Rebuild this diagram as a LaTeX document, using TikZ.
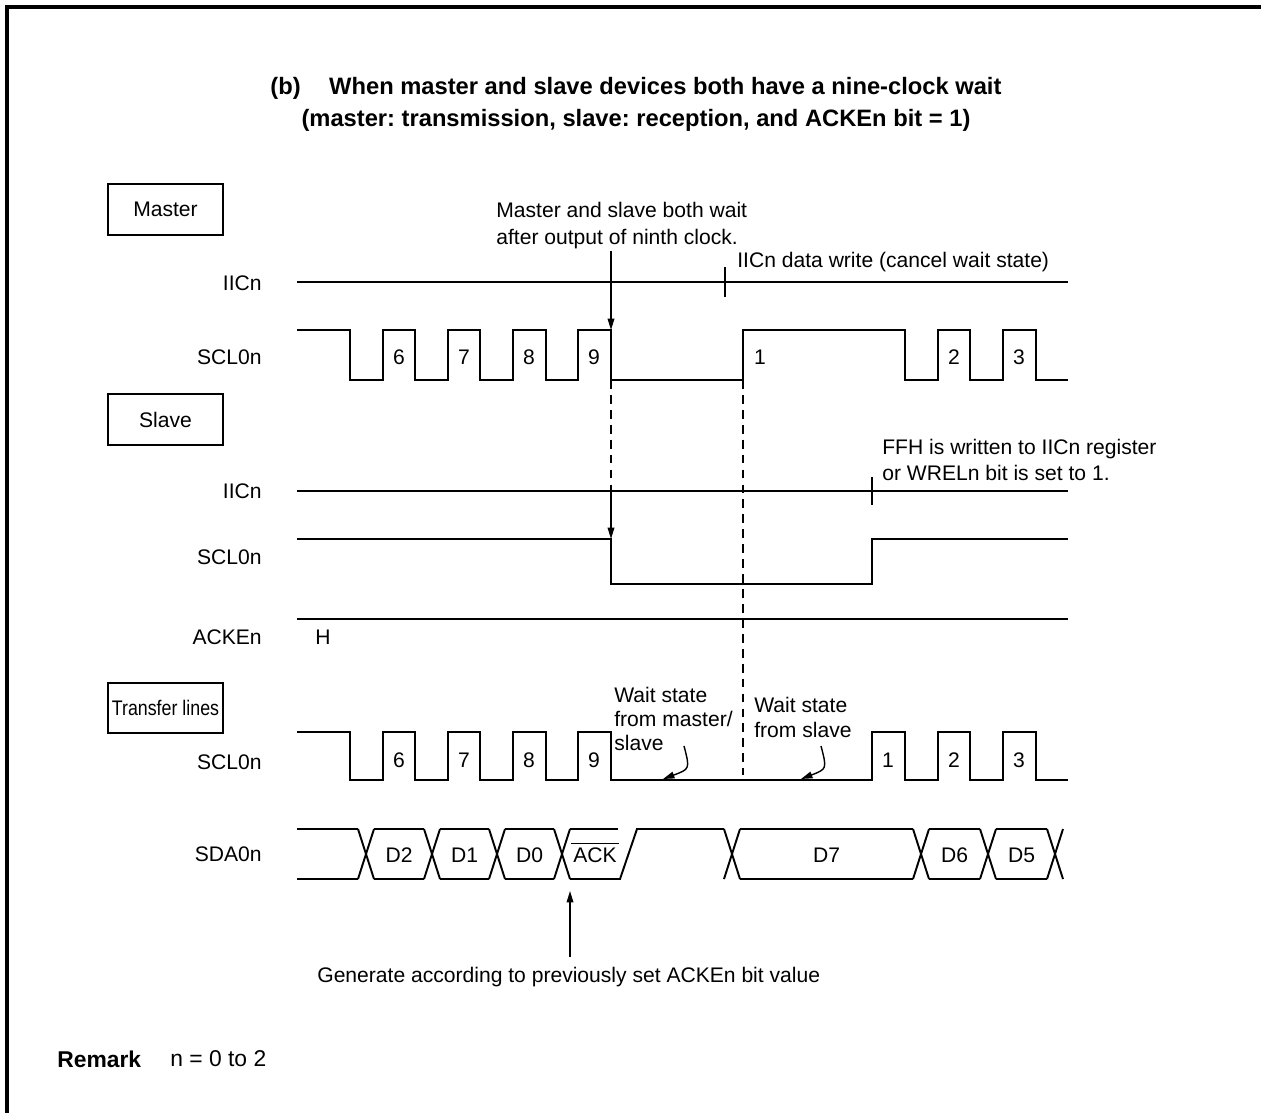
\documentclass[tikz,border=0pt]{standalone}
\usepackage{fontspec}
\setmainfont{Liberation Sans}
\usetikzlibrary{arrows.meta,positioning}
\frenchspacing

\begin{document}
\begin{tikzpicture}[x=0.02cm, y=-0.02cm,
    font=\fontsize{12pt}{14pt}\selectfont,
    sig/.style={line width=1.1pt},
    guide/.style={line width=0.8pt, dash pattern=on 5pt off 3.5pt},
    pointer/.style={line width=0.8pt, -{Triangle[length=6.5pt,width=3.8pt]}},
    rowlabel/.style={anchor=east, inner sep=0pt},
    note/.style={anchor=west, align=left, inner sep=0pt},
    groupbox/.style={draw, line width=0.95pt, minimum width=2.3cm, minimum height=1.02cm, inner sep=0pt}]

  \useasboundingbox (0,0) rectangle (1261,1113);

  % Frame
  \draw[line width=1.9pt] (7,1113) -- (7,7) -- (1261,7);

  % Title
  \node[font=\fontsize{13.5pt}{16pt}\selectfont\bfseries] (title1) at (636,88) {(b)\hspace{1.2em}When master and slave devices both have a nine-clock wait};
  \node[font=\fontsize{13.5pt}{16pt}\selectfont\bfseries] (title2) at (636,120) {(master: transmission, slave: reception, and ACKEn bit = 1)};

  % Group boxes
  \node[groupbox] (master) at (165.5,209.5) {Master};
  \node[groupbox] (slave) at (165.5,419.5) {Slave};
  \node[groupbox, minimum height=1cm] (transfer) at (165.5,708) {\scalebox{0.845}[1]{Transfer lines}};

  % Row labels
  \foreach \y/\nm/\txt in {283/miic/IICn, 357/mscl/SCL0n, 491/siic/IICn, 557/sscl/SCL0n, 637/acken/ACKEn, 762/tscl/SCL0n, 854/tsda/SDA0n}
    \node[rowlabel] (\nm) at (262,\y) {\txt};

  % Master IICn
  \draw[sig] (297,282) -- (1068,282);
  \draw[sig] (725,267) -- (725,297);
  \node[note] (iicw) at (737,262.5) {IICn data write (cancel wait state)};

  % Master SCL0n
  \draw[sig] (297,330) -| (350,380) -| (383,330) -| (415,380) -| (448,330) -| (480,380) -| (513,330) -| (546,380) -| (578,330) -| (611,380) -| (743,330) -| (905,380) -| (938,330) -| (970,380) -| (1003,330) -| (1036,380) -- (1068,380);
  \foreach \x/\t in {399/6, 464/7, 529/8, 594/9, 760/1, 954/2, 1019/3}
    \node (m\t) at (\x,357) {\t};

  % Both wait after ninth clock
  \node[note, font=\fontsize{12pt}{15.8pt}\selectfont] (bothwait) at (496,225.5) {Master and slave both wait\\after output of ninth clock.};
  \coordinate (mtop) at (611,251);
  \coordinate (mfall) at (611,330);
  \coordinate (mlow) at (611,380);
  \draw[pointer] (mtop) -- (mfall);

  % Slave IICn
  \draw[sig] (297,491) -- (1068,491);
  \draw[sig] (872,477) -- (872,505);
  \node[note, font=\fontsize{12pt}{14.7pt}\selectfont] (ffh) at (882,460) {FFH is written to IICn register\\or WRELn bit is set to 1.};

  % Slave SCL0n
  \draw[sig] (297,539) -| (611,584) -| (872,539) -- (1068,539);
  \coordinate (siicx) at (611,491);
  \coordinate (sfall) at (611,539);
  \draw[guide] (mlow) -- (siicx);
  \draw[pointer] (siicx) -- (sfall);

  % ACKEn
  \draw[sig] (297,619) -- (1068,619);
  \node (ackh) at (323,637) {H};

  % Transfer SCL0n
  \draw[sig] (297,732) -| (350,780) -| (383,732) -| (415,780) -| (448,732) -| (480,780) -| (513,732) -| (546,780) -| (578,732) -| (611,780) -| (872,732) -| (905,780) -| (938,732) -| (970,780) -| (1003,732) -| (1036,780) -- (1068,780);
  \foreach \x/\t in {399/6, 464/7, 529/8, 594/9, 888/1, 954/2, 1019/3}
    \node (t\t) at (\x,760) {\t};

  % Master releases wait
  \coordinate (mrise) at (743,380);
  \coordinate (trel) at (743,775);
  \draw[guide] (mrise) -- (trel);

  % Wait state notes
  \node[note, font=\fontsize{12pt}{13.9pt}\selectfont] (waitms) at (614,719) {Wait state\\from master/\\slave};
  \coordinate (waitmstail) at (684,746);
  \coordinate (waitmsend) at (663,779);
  \draw[pointer] (waitmstail) .. controls (690,769) .. (waitmsend);
  \node[note, font=\fontsize{12pt}{14.2pt}\selectfont] (waitsl) at (754,717) {Wait state\\from slave};
  \coordinate (waitsltail) at (821,746);
  \coordinate (waitslend) at (801,779);
  \draw[pointer] (waitsltail) .. controls (827,769) .. (waitslend);

  % SDA0n
  \draw[sig] (297,829) -- (358,829) (297,879) -- (358,879);
  \foreach \l/\r/\t in {374/424/D2, 440/489/D1, 505/554/D0, 740/913/D7, 929/980/D6, 996/1047/D5} {
    \draw[sig] (\l,829) -- (\r,829) (\l,879) -- (\r,879);
    \node (\t) at ({(\l+\r)/2},855) {\t};
  }
  \foreach \x in {358,424,489,554,724,913,980,1047}
    \draw[sig] (\x,829) -- ++(16,50) (\x,879) -- ++(16,-50);
  % ACK bit
  \draw[sig] (570,829) -- (618,829);
  \draw[sig] (570,879) -- (620,879) -- (637,829) -- (724,829);
  \node[inner sep=0pt] (ack) at (595,855.5) {ACK};
  \draw[line width=0.6pt] ([xshift=-1pt,yshift=2.3pt]ack.north west) -- ([xshift=1pt,yshift=2.3pt]ack.north east);

  % ACK source
  \coordinate (acktail) at (570,957);
  \coordinate (acktip) at (570,891);
  \draw[pointer] (acktail) -- (acktip);
  \node[note] (gen) at (317,977) {Generate according to previously set ACKEn bit value};

  % Remark
  \node[note, font=\fontsize{13pt}{15pt}\selectfont\bfseries] (remark) at (57,1059) {Remark};
  \node[note, font=\fontsize{13pt}{15pt}\selectfont] (nrange) at (170,1059) {n = 0 to 2};
\end{tikzpicture}
\end{document}
